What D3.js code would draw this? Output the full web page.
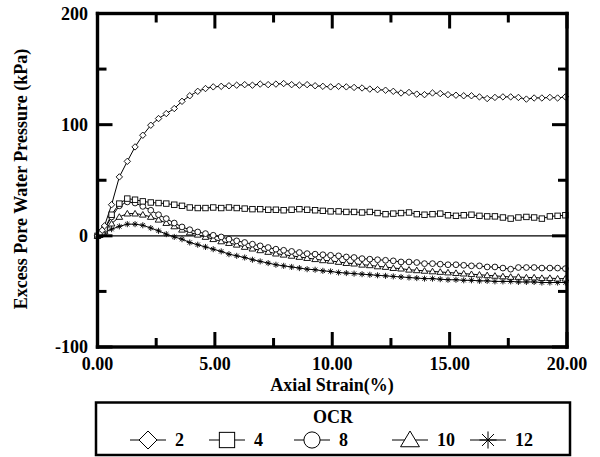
<!DOCTYPE html>
<html>
<head>
<meta charset="utf-8">
<script src="https://cdn.jsdelivr.net/npm/d3@7.9.0/dist/d3.min.js"></script>
<style>
  body { margin: 0; background: #fff; }
  svg text { font-family: "Liberation Serif", "Times New Roman", serif; font-weight: bold; fill: #000; }
</style>
</head>
<body>
<svg id="chart" width="600" height="457"></svg>
<script>
// axial strain (%) at each recorded point
const strain = [0, 0.1, 0.2, 0.3, 0.6, 0.93, 1.27, 1.6, 1.93, 2.27, 2.6, 2.93, 3.27, 3.6, 3.93, 4.27, 4.6, 4.93,
  5.27, 5.6, 5.93, 6.27, 6.6, 6.93, 7.27, 7.6, 7.93, 8.27, 8.6, 8.93, 9.27, 9.6, 9.93, 10.27, 10.6, 10.93,
  11.27, 11.6, 11.93, 12.27, 12.6, 12.93, 13.27, 13.6, 13.93, 14.27, 14.6, 14.93, 15.27, 15.6, 15.93,
  16.27, 16.6, 16.93, 17.27, 17.6, 17.93, 18.27, 18.6, 18.93, 19.27, 19.6, 19.93];

const ocr2 = [0, 2, 5, 9, 28, 53, 67, 80, 90.5, 99.5, 105.5, 110, 114.5, 121, 126, 130, 132.5, 134,
  134.5, 135, 135.5, 136, 135.5, 136.5, 136, 136.5, 137, 136, 135.5, 136, 135, 134.5, 134, 134.5, 134, 133.5,
  133, 132, 131.5, 131, 130, 128.5, 129, 127.5, 127, 128.5, 128, 127, 126.5, 126, 126,
  125, 123.5, 124.5, 125, 125, 124.5, 123, 124, 124, 124.5, 124, 125];

const ocr4 = [0, 1, 3, 6, 19, 29, 33.5, 32.5, 31, 30, 29.5, 29, 28, 27, 25.5, 25, 25, 25.5,
  25, 25.5, 25, 24.5, 24, 24, 23.5, 23.5, 23, 23.5, 24, 23.5, 23, 22.5, 22, 22, 21.5, 21.5,
  21, 21.5, 20.5, 19.5, 20, 20.5, 21, 19.5, 19, 19.5, 20, 18.5, 18, 18.5, 19,
  18, 17.5, 17.5, 16.5, 15.5, 16.5, 17, 16.5, 15.5, 17.5, 18, 18.5];

const ocr8 = [0, 1, 3, 6, 17, 27, 30.5, 29.5, 26.5, 23, 19, 15.5, 11.5, 8, 5.5, 3.5, 2, 0.5,
  -1, -3, -4.5, -6, -7.5, -9, -10.5, -12, -13, -14, -15, -16, -16.5, -17, -17.5, -18, -19, -19.5,
  -20.5, -21, -21.5, -22, -22.5, -23.5, -23.5, -24, -25, -25, -25.5, -26, -26, -26.5, -27,
  -27, -28, -28, -29, -30, -28.5, -28.5, -28.5, -29, -29, -29, -29.5];

const ocr10 = [0, 1, 2, 4, 11, 17, 20, 20, 19, 17, 14.5, 11.5, 8.5, 5.5, 3, 1, -1, -3,
  -5, -6.5, -8, -10, -11.5, -13, -14.5, -16, -17, -18, -19, -20, -21, -22, -22.5, -23.5, -24.5, -25,
  -26, -26.5, -27.5, -28, -29, -29.5, -30.5, -31, -31.5, -32, -32.5, -33, -33.5, -34, -34.5,
  -35, -35.5, -36, -36.5, -37, -37, -37.5, -37.5, -38, -38, -38.5, -38.5];

const ocr12 = [0, 1, 2, 3, 6, 8.5, 10.5, 10.5, 9.5, 7, 4.5, 1.5, -1, -3, -6, -8, -10, -12,
  -14, -16.5, -18, -19.5, -21.5, -23, -24.5, -26, -27, -28, -29, -30, -30.5, -31.5, -32, -33, -33.5, -34,
  -34.5, -35, -35.5, -36, -36.5, -37, -37.5, -38, -38.5, -38.5, -39, -39.5, -39.5, -40, -40,
  -40.5, -40.5, -41, -41, -41, -41.5, -41.5, -41.5, -42, -42, -42, -42];

const ocrLabels = ['2', '4', '8', '10', '12'];
const seriesValues = [ocr2, ocr4, ocr8, ocr10, ocr12];
const xTickLabels = ['0.00', '5.00', '10.00', '15.00', '20.00'];
const xTicks = [0, 5, 10, 15, 20];
const xMinor = [2.5, 7.5, 12.5, 17.5];
const yTickLabels = ['-100', '0', '100', '200'];
const yTicks = [-100, 0, 100, 200];
const yMinor = [-50, 50, 150];

const svg = d3.select('#chart');
const plotLeft = 97.5, plotRight = 567, plotTop = 13.5, plotBottom = 347;

const x = d3.scaleLinear().domain([0, 20]).range([plotLeft, plotRight]);
const y = d3.scaleLinear().domain([-100, 200]).range([plotBottom, plotTop]);

// marker shapes, drawn around 0,0
function marker(g, kind, s) {
  if (kind === 0) {
    g.append('path').attr('d', `M0,${-s}L${s},0L0,${s}L${-s},0Z`);
  } else if (kind === 1) {
    g.append('rect').attr('x', -s * 0.85).attr('y', -s * 0.85).attr('width', s * 1.7).attr('height', s * 1.7);
  } else if (kind === 2) {
    g.append('circle').attr('r', s * 0.9);
  } else if (kind === 3) {
    g.append('path').attr('d', `M0,${-s}L${s * 1.05},${s * 0.75}L${-s * 1.05},${s * 0.75}Z`);
  } else {
    const a = s * 0.95;
    g.append('path').attr('d', `M${-a},0L${a},0M0,${-a}L0,${a}M${-a * 0.7},${-a * 0.7}L${a * 0.7},${a * 0.7}M${-a * 0.7},${a * 0.7}L${a * 0.7},${-a * 0.7}`);
  }
}

// zero line
svg.append('line')
  .attr('x1', x(0)).attr('x2', x(20))
  .attr('y1', y(0)).attr('y2', y(0))
  .attr('stroke', '#000').attr('stroke-width', 1.3);

const line = d3.line().x((d, i) => x(strain[i])).y(d => y(d));

seriesValues.forEach((vals) => {
  svg.append('path')
    .attr('d', line(vals))
    .attr('fill', 'none')
    .attr('stroke', '#000')
    .attr('stroke-width', 1);
});

// markers drawn from the lowest series up
for (let k = seriesValues.length - 1; k >= 0; k--) {
  const vals = seriesValues[k];
  vals.forEach((v, i) => {
    const g = svg.append('g')
      .attr('transform', `translate(${x(strain[i])},${y(v)})`)
      .attr('fill', '#fff')
      .attr('stroke', '#000')
      .attr('stroke-width', 0.9);
    marker(g, k, 3.2);
  });
}

// frame, drawn as four filled bars
const fw = 3.4;
svg.append('rect').attr('x', plotLeft - fw / 2).attr('y', plotTop - fw / 2)
  .attr('width', plotRight - plotLeft + fw).attr('height', fw).attr('fill', '#000');
svg.append('rect').attr('x', plotLeft - fw / 2).attr('y', plotBottom - fw / 2)
  .attr('width', plotRight - plotLeft + fw).attr('height', fw).attr('fill', '#000');
svg.append('rect').attr('x', plotLeft - fw / 2).attr('y', plotTop - fw / 2)
  .attr('width', fw).attr('height', plotBottom - plotTop + fw).attr('fill', '#000');
svg.append('rect').attr('x', plotRight - fw / 2).attr('y', plotTop - fw / 2)
  .attr('width', fw).attr('height', plotBottom - plotTop + fw).attr('fill', '#000');

// inward ticks on all four sides, as filled bars
const tw = 3;
const xTickData = xTicks.map(v => [v, 15]).concat(xMinor.map(v => [v, 9]));
const yTickData = yTicks.map(v => [v, 15]).concat(yMinor.map(v => [v, 9]));
const tickGroup = svg.append('g').attr('fill', '#000');
xTickData.forEach(d => {
  tickGroup.append('rect').attr('x', x(d[0]) - tw / 2).attr('y', plotBottom - d[1]).attr('width', tw).attr('height', d[1]);
  tickGroup.append('rect').attr('x', x(d[0]) - tw / 2).attr('y', plotTop).attr('width', tw).attr('height', d[1]);
});
yTickData.forEach(d => {
  tickGroup.append('rect').attr('x', plotLeft).attr('y', y(d[0]) - tw / 2).attr('width', d[1]).attr('height', tw);
  tickGroup.append('rect').attr('x', plotRight - d[1]).attr('y', y(d[0]) - tw / 2).attr('width', d[1]).attr('height', tw);
});

// tick labels
svg.selectAll('text.xlab').data(xTicks).join('text').attr('class', 'xlab')
  .attr('x', d => x(d)).attr('y', 370)
  .attr('text-anchor', 'middle')
  .style('font-size', '18px')
  .text((d, i) => xTickLabels[i]);

svg.selectAll('text.ylab').data(yTicks).join('text').attr('class', 'ylab')
  .attr('x', 88).attr('y', d => y(d) + 6)
  .attr('text-anchor', 'end')
  .style('font-size', '18px')
  .text((d, i) => yTickLabels[i]);

// axis titles
svg.append('text')
  .attr('x', 332).attr('y', 391)
  .attr('text-anchor', 'middle')
  .style('font-size', '18px')
  .text('Axial Strain(%)');

svg.append('text')
  .attr('transform', 'translate(27,179) rotate(-90)')
  .attr('text-anchor', 'middle')
  .style('font-size', '18px')
  .text('Excess Pore Water Pressure (kPa)');

// legend
const legend = svg.append('g');
legend.append('rect')
  .attr('x', 96).attr('y', 402.5)
  .attr('width', 474).attr('height', 52.5)
  .attr('fill', 'none').attr('stroke', '#000').attr('stroke-width', 2.5);
legend.append('text')
  .attr('x', 333).attr('y', 423)
  .attr('text-anchor', 'middle')
  .style('font-size', '18px')
  .text('OCR');

const legendX = [148, 227, 312, 410, 488];
ocrLabels.forEach((lab, k) => {
  const cx = legendX[k], cy = 440;
  legend.append('line')
    .attr('x1', cx - 18).attr('x2', cx + 18)
    .attr('y1', cy).attr('y2', cy)
    .attr('stroke', '#000').attr('stroke-width', 1);
  const g = legend.append('g')
    .attr('transform', `translate(${cx},${cy})`)
    .attr('fill', '#fff').attr('stroke', '#000').attr('stroke-width', 1);
  marker(g, k, 9);
  legend.append('text')
    .attr('x', cx + 27).attr('y', cy + 6)
    .style('font-size', '18px')
    .text(lab);
});
</script>
</body>
</html>
